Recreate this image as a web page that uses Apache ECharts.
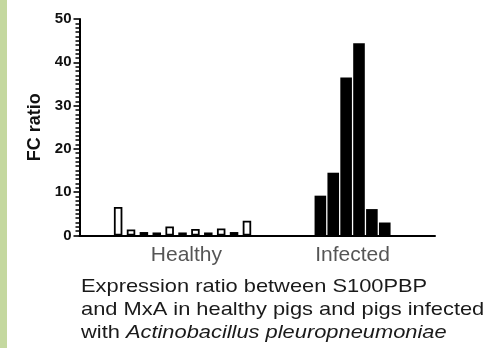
<!DOCTYPE html>
<html>
<head>
<meta charset="utf-8">
<script src="https://cdn.jsdelivr.net/npm/echarts@6/dist/echarts.min.js"></script>
<style>html,body{margin:0;padding:0;background:#fff}#c{width:487px;height:348px}</style>
</head>
<body>
<div id="c"></div>
<script>
// ---- data ----
const groups = ['Healthy', 'Infected'];
const healthy = [6.6, 1.4, 0.8, 0.7, 2.1, 0.7, 1.5, 0.7, 1.6, 0.8, 3.4];
const infected = [9.2, 14.5, 36.5, 44.4, 6.1, 3.0];
const yTicks = [0, 10, 20, 30, 40, 50];
const yName = 'FC ratio';
const captionLines = ['Expression ratio between S100PBP', 'and MxA in healthy pigs and pigs infected'];
const captionPrefix = 'with ';
const captionItalic = 'Actinobacillus pleuropneumoniae';

// ---- layout constants ----
const H_START = 3, I_START = 18.7, X_MAX = 27.6;
const FONT = 'Liberation Sans, Arial, sans-serif';

const hData = healthy.map((v, i) => [H_START + i, v]);
const iData = infected.map((v, i) => [I_START + i, v]);
const centers = [H_START + (healthy.length - 1) / 2 + 0.3, I_START + (infected.length - 1) / 2];
const yMin = yTicks[0], yMax = yTicks[yTicks.length - 1];

const chart = echarts.init(document.getElementById('c'), null, {renderer: 'canvas'});
const xBase = {
  type: 'value', min: 0, max: X_MAX, gridIndex: 0,
  axisTick: {show: false}, axisLabel: {show: false}, splitLine: {show: false}
};
chart.setOption({
  animation: false,
  backgroundColor: '#fff',
  grid: {left: 79.5, right: 52, top: 19, bottom: 112.5},
  xAxis: [
    Object.assign({}, xBase, {axisLine: {show: true, onZero: false, lineStyle: {color: '#000', width: 2}}}),
    Object.assign({}, xBase, {show: false}),
    Object.assign({}, xBase, {show: false})
  ],
  yAxis: {
      type: 'value', min: yMin, max: yMax, interval: 10,
      name: yName, nameLocation: 'middle', nameGap: 35,
      nameTextStyle: {fontFamily: FONT, fontWeight: 'bold', fontSize: 18, color: '#111'},
      axisLine: {show: true, lineStyle: {color: '#000', width: 2}},
      axisTick: {show: true, length: 6, lineStyle: {color: '#000', width: 1.6}},
      minorTick: {show: true, splitNumber: 10, length: 4, lineStyle: {color: '#000', width: 1.5}},
      axisLabel: {fontFamily: FONT, fontWeight: 'bold', fontSize: 15, color: '#111', margin: 8},
      splitLine: {show: false}, minorSplitLine: {show: false}
  },
  series: [
    {
      type: 'bar', xAxisIndex: 0, data: hData, barWidth: 8.5,
      itemStyle: {color: '#fff', borderColor: '#000', borderWidth: 1.8}
    },
    {
      type: 'bar', xAxisIndex: 1, data: iData, barWidth: 11.6,
      itemStyle: {color: '#000'}
    },
    {
      type: 'scatter', xAxisIndex: 2, symbolSize: 1, silent: true,
      itemStyle: {color: 'rgba(0,0,0,0)'},
      data: groups.map((g, i) => ({name: g, value: [centers[i], 0]})),
      label: {
        show: true, position: 'bottom', distance: 9, formatter: '{b}',
        fontFamily: FONT, fontSize: 21, color: '#2a2a2a'
      }
    }
  ],
  graphic: [
    {type: 'rect', shape: {x: 0, y: 0, width: 7, height: 348}, style: {fill: '#c4d89f'}, silent: true},
    {
      type: 'text', x: 81, y: 275, scaleX: 1.15, scaleY: 1,
      style: {
        text: captionLines.join('\n') + '\n' + captionPrefix + '{it|' + captionItalic + '}',
        fontFamily: FONT, fontSize: 19, lineHeight: 23, fill: '#1a1a1a',
        verticalAlign: 'top', align: 'left',
        rich: {it: {fontStyle: 'italic', fontFamily: FONT, fontSize: 19, lineHeight: 23, fill: '#1a1a1a'}}
      }
    }
  ]
});
</script>
</body>
</html>
